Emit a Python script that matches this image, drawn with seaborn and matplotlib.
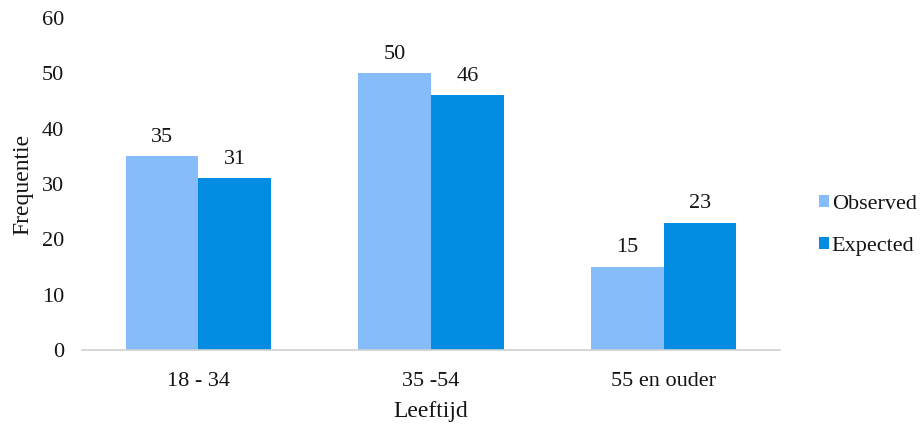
import matplotlib
matplotlib.use("Agg")
import matplotlib.pyplot as plt
import seaborn as sns
import pandas as pd

categories = ["18 - 34", "35 -54", "55 en ouder"]
observed = [35, 50, 15]
expected = [31, 46, 23]
series_names = ["Observed", "Expected"]
colors = ["#85BCF9", "#038CE2"]
text_color = "#151515"

df = pd.DataFrame({
    "Leeftijd": categories * 2,
    "Frequentie": observed + expected,
    "Reeks": [series_names[0]] * len(categories) + [series_names[1]] * len(categories),
})

sns.set_theme(style="white")
plt.rcParams["font.family"] = ["Liberation Serif", "DejaVu Serif"]

fig = plt.figure(figsize=(9.23, 4.26), dpi=100)
ax = fig.add_axes([0.0888, 0.1784, 0.7562, 0.7793])

sns.barplot(data=df, x="Leeftijd", y="Frequentie", hue="Reeks",
            palette=colors, width=0.625, saturation=1, linewidth=0, ax=ax)

for container in ax.containers:
    ax.bar_label(container, fmt="%d", padding=7, fontsize=16, color=text_color)

ax.set_ylim(0, 60)
ax.set_xlim(-0.5, 2.5)
ax.set_yticks(range(0, 61, 10))
ax.tick_params(axis="both", length=0, labelsize=16, colors=text_color)
ax.tick_params(axis="y", pad=13)
ax.tick_params(axis="x", pad=16)
for side in ["top", "right", "left"]:
    ax.spines[side].set_visible(False)
ax.spines["bottom"].set_color("#d0d0d0")
ax.spines["bottom"].set_linewidth(1.2)

ax.set_ylabel("Frequentie", fontsize=17, color=text_color, labelpad=6)
ax.set_xlabel("Leeftijd", fontsize=17, color=text_color, labelpad=7)

leg = ax.legend(loc="center left", bbox_to_anchor=(1.028, 0.375), frameon=False,
                fontsize=16, handlelength=0.45, handleheight=0.45,
                handletextpad=0.1, labelspacing=1.05, title=None)
for t in leg.get_texts():
    t.set_color(text_color)

fig.savefig("out.png", dpi=100, facecolor="white")
